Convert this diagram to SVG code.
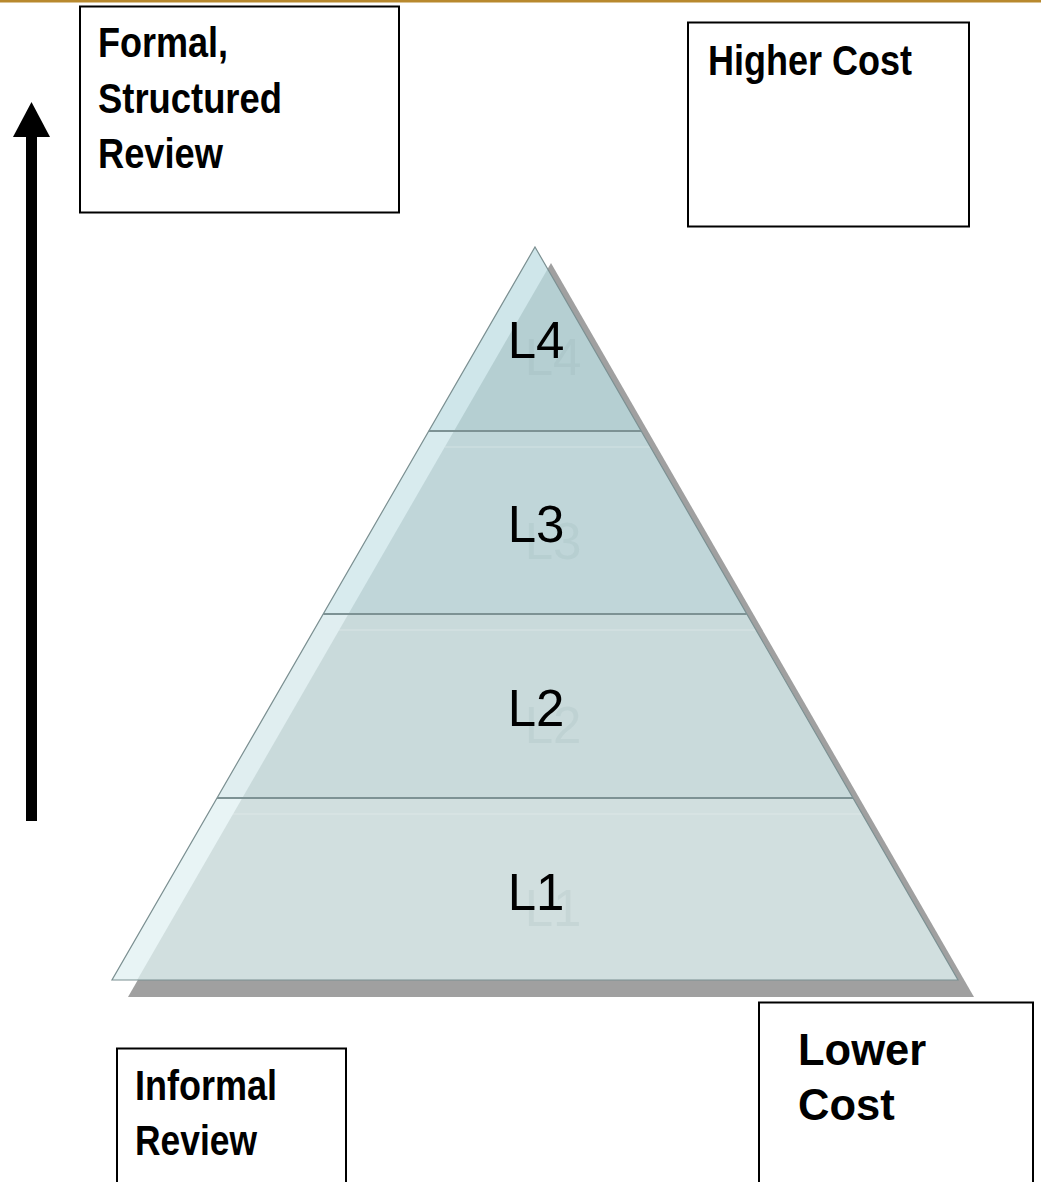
<svg xmlns="http://www.w3.org/2000/svg" width="1041" height="1182" viewBox="0 0 1041 1182">
<style>
.box{fill:#ffffff;stroke:#000000;stroke-width:2}
.nar{font-family:"Liberation Sans Narrow","Arial Narrow","Liberation Sans",Arial,sans-serif;font-weight:bold;font-size:42px;fill:#000000}
.bold{font-family:"Liberation Sans",Arial,sans-serif;font-weight:bold;font-size:43.5px;fill:#000000}
.lab{font-family:"Liberation Sans",Arial,sans-serif;font-size:51px;fill:#000000;text-anchor:middle}
.ghost{font-family:"Liberation Sans",Arial,sans-serif;font-size:51px;text-anchor:middle;fill:#7f9a9e;fill-opacity:0.12}
.div{stroke:#7d9294;stroke-width:2;fill:none}
.hl{stroke:#ffffff;stroke-opacity:0.3;stroke-width:1;fill:none}
</style>
<rect x="0" y="0" width="1041" height="2.5" fill="#b8892e"/>
<g id="connectors">
  <rect x="26" y="136" width="11" height="685" fill="#000000"/>
  <polygon points="31.5,102 13,137 50,137" fill="#000000"/>
</g>
<g id="node-formal">
  <rect class="box" x="80" y="6.5" width="319" height="206"/>
  <text class="nar" x="98" y="57" textLength="130" lengthAdjust="spacingAndGlyphs">Formal,</text>
  <text class="nar" x="98" y="113" textLength="184" lengthAdjust="spacingAndGlyphs">Structured</text>
  <text class="nar" x="98" y="168" textLength="125" lengthAdjust="spacingAndGlyphs">Review</text>
</g>
<g id="node-higher-cost">
  <rect class="box" x="688" y="22.5" width="281" height="204"/>
  <text class="nar" x="708" y="75" font-size="43" textLength="204" lengthAdjust="spacingAndGlyphs">Higher Cost</text>
</g>
<g id="node-pyramid">
  <polygon points="551,263 128,997 974,997" fill="#a0a0a0"/>
  <polygon points="535,247 641.2,431 428.8,431" fill="#cfe6ea"/>
  <polygon points="428.8,431 641.2,431 746.8,614 323.2,614" fill="#d8ebee"/>
  <polygon points="323.2,614 746.8,614 853,798 217,798" fill="#e0eef0"/>
  <polygon points="217,798 853,798 958,980 112,980" fill="#e8f4f5"/>
  <polygon points="547.6,268.9 641.2,431 454,431" fill="#b5cfd2"/>
  <polygon points="454,431 641.2,431 746.8,614 348.4,614" fill="#c0d6d9"/>
  <polygon points="348.4,614 746.8,614 853,798 242.3,798" fill="#c9dadb"/>
  <polygon points="242.3,798 853,798 958,980 137.2,980" fill="#d1dfdf"/>
  <line class="hl" x1="444.8" y1="447" x2="650.4" y2="447"/>
  <line class="hl" x1="339.2" y1="630" x2="756" y2="630"/>
  <line class="hl" x1="233" y1="814" x2="862" y2="814"/>
  <polygon points="535,247 958,980 112,980" fill="none" stroke="#7b8f91" stroke-width="1.2"/>
  <line class="div" x1="428.8" y1="431" x2="641.2" y2="431"/>
  <line class="div" x1="323.2" y1="614" x2="746.8" y2="614"/>
  <line class="div" x1="217" y1="798" x2="853" y2="798"/>
  <text class="ghost" x="553" y="375">L4</text>
  <text class="ghost" x="553" y="559">L3</text>
  <text class="ghost" x="553" y="743">L2</text>
  <text class="ghost" x="553" y="926">L1</text>
  <text class="lab" x="536" y="358">L4</text>
  <text class="lab" x="536" y="542">L3</text>
  <text class="lab" x="536" y="726">L2</text>
  <text class="lab" x="536" y="910">L1</text>
</g>
<g id="node-informal">
  <rect class="box" x="117" y="1048.5" width="229" height="140"/>
  <text class="nar" x="135" y="1100" font-size="43" textLength="142" lengthAdjust="spacingAndGlyphs">Informal</text>
  <text class="nar" x="135" y="1155" font-size="43" textLength="122" lengthAdjust="spacingAndGlyphs">Review</text>
</g>
<g id="node-lower-cost">
  <rect class="box" x="759" y="1002.5" width="274" height="190"/>
  <text class="bold" x="798" y="1065">Lower</text>
  <text class="bold" x="798" y="1120">Cost</text>
</g>
</svg>
